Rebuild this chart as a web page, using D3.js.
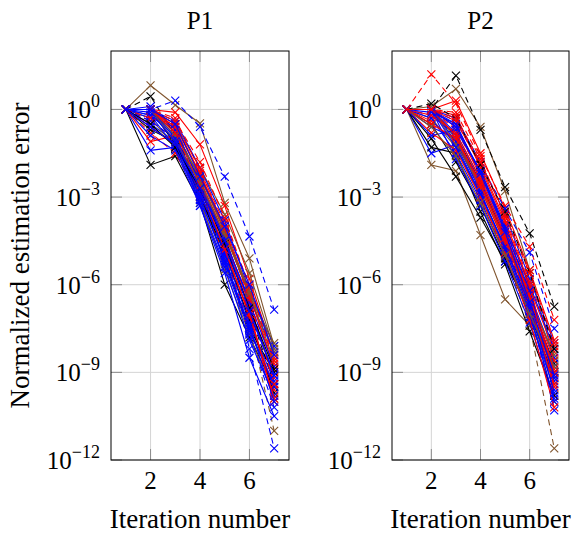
<!DOCTYPE html>
<html>
<head>
<meta charset="utf-8">
<script src="https://cdn.jsdelivr.net/npm/d3@7"></script>
<style>
  body { margin: 0; background: #fff; }
  svg text { font-family: "Liberation Serif", "Times New Roman", serif; fill: #000; }
</style>
</head>
<body>
<svg id="chart"></svg>
<script>
// data (errors given as log10 values)
const iterations = [1, 2, 3, 4, 5, 6, 7];
const xTicks = [2, 4, 6];
const yTickExps = [0, -3, -6, -9, -12];
const panelTitles = ["P1", "P2"];

const p1Colors = ["brown", "black", "brown", "black", "red", "blue", "red", "blue", "brown", "black",
  "red", "blue", "red", "blue", "brown", "red", "blue", "black", "blue", "red",
  "blue", "red", "blue", "blue", "blue", "red", "blue", "brown", "blue", "red",
  "brown", "red", "blue", "black", "red", "blue", "brown", "red", "blue", "blue"];
const p1Dashed = [false, true, true, false, true, false, false, true, false, false,
  false, true, true, false, false, false, false, false, false, true,
  true, false, false, false, false, false, false, false, false, false,
  false, true, false, false, false, false, false, true, false, false];
const p1LogErrors = [
  [0, 0.82, 0.15, -0.48, -3.2, -5.1, -8.1],
  [0, 0.45, -0.9, -2.6, -4.6, -6.9, -9.4],
  [0, 0, -0.6, -2.5, -4.7, -7.3, -11.0],
  [0, -1.9, -1.6, -3.2, -6.0, -7.8, -9.5],
  [0, -0.4, -1.0, -2.6, -4.5, -6.6, -8.8],
  [0, -0.5, -1.1, -2.9, -4.8, -7.0, -9.0],
  [0, 0, -0.1, -1.2, -3.3, -5.8, -8.4],
  [0, 0, 0.3, -0.6, -2.3, -4.35, -6.85],
  [0, 0, -0.5, -2.0, -3.6, -5.6, -8.2],
  [0, 0, -1.2, -2.8, -5.2, -7.5, -9.0],
  [0, -0.6, -1.2, -2.5, -4.4, -6.7, -9.2],
  [0, 0, -0.8, -2.4, -4.6, -8.2, -11.6],
  [0, -0.8, -1.5, -3.0, -5.0, -7.4, -9.8],
  [0, -1.4, -1.3, -3.2, -5.3, -7.6, -9.4],
  [0, -0.3, -1.3, -3.1, -5.5, -7.7, -9.9],
  [0, 0, -0.5, -2.2, -4.0, -6.3, -8.9],
  [0, -0.3, -0.6, -2.6, -4.5, -6.5, -8.3],
  [0, -0.7, -1.1, -3.0, -4.9, -7.2, -9.7],
  [0, -0.9, -1.4, -3.3, -5.6, -8.5, -10.5],
  [0, 0, -0.3, -2.1, -3.9, -6.0, -8.5],
  [0, -0.4, -1.0, -2.8, -5.0, -7.7, -10.2],
  [0, -1.1, -0.9, -2.9, -4.7, -7.1, -9.6],
  [0, 0, -0.4, -2.0, -3.8, -6.2, -8.1],
  [0, -0.2, -0.9, -2.7, -4.9, -7.3, -9.3],
  [0, 0, -0.9, -3.3, -5.4, -7.9, -9.8],
  [0, 0, -0.7, -2.4, -4.3, -6.9, -10.0],
  [0, -0.2, -1.3, -3.1, -5.1, -7.5, -9.5],
  [0, 0, -0.8, -2.3, -4.1, -6.4, -8.0],
  [0, 0.1, -0.7, -2.5, -4.4, -6.6, -8.8],
  [0, 0, -0.6, -2.2, -4.2, -6.4, -8.7],
  [0, 0, -0.9, -2.3, -4.2, -6.2, -8.3],
  [0, -0.3, -0.5, -2.0, -4.1, -6.5, -9.4],
  [0, 0, -1.0, -2.9, -4.7, -6.8, -9.1],
  [0, -0.5, -1.3, -2.7, -4.6, -6.8, -8.9],
  [0, 0, -0.8, -2.6, -4.8, -7.0, -9.9],
  [0, -0.6, -1.2, -3.0, -5.2, -7.4, -10.0],
  [0, 0, -1.1, -2.5, -4.3, -6.3, -8.6],
  [0, 0, -0.4, -1.8, -3.7, -6.1, -8.6],
  [0, -0.1, -1.1, -2.7, -4.5, -6.9, -9.1],
  [0, 0, -0.5, -2.3, -4.0, -6.0, -8.4]
];

const p2Colors = ["brown", "brown", "brown", "black", "black", "red", "black", "brown", "black", "blue",
  "red", "blue", "red", "blue", "brown", "red", "blue", "red", "blue", "black",
  "blue", "red", "blue", "blue", "red", "blue", "red", "blue", "red", "blue",
  "brown", "red", "blue", "black", "red", "blue", "brown", "red", "blue", "red"];
const p2Dashed = [false, false, true, true, false, true, false, false, false, false,
  false, true, true, false, false, false, false, false, true, false,
  false, false, false, false, true, false, false, false, false, false,
  false, false, false, true, false, false, false, false, false, true];
const p2LogErrors = [
  [0, -1.9, -2.1, -4.3, -6.5, -7.4, -9.0],
  [0, 0.1, 0.7, -0.6, -2.8, -5.5, -8.6],
  [0, 0, -0.9, -2.9, -5.0, -7.4, -11.6],
  [0, 0, 1.16, -0.7, -2.66, -4.24, -6.75],
  [0, -1.0, -2.3, -3.7, -5.2, -6.9, -9.0],
  [0, 1.2, 0.2, -1.6, -3.3, -4.7, -7.2],
  [0, -0.5, -1.8, -3.3, -5.1, -7.0, -9.2],
  [0, -0.3, -1.3, -3.0, -4.8, -7.1, -9.4],
  [0, 0, -0.9, -2.5, -4.4, -6.6, -8.7],
  [0, 0, -0.5, -2.2, -4.1, -6.3, -8.5],
  [0, 0, 0.3, -1.5, -3.4, -5.5, -7.9],
  [0, 0, -0.4, -1.9, -3.4, -4.9, -7.5],
  [0, 0, -0.7, -2.2, -4.0, -6.2, -9.8],
  [0, -0.6, -1.0, -2.6, -4.4, -6.7, -9.0],
  [0, 0, -1.0, -2.7, -4.6, -6.9, -10.0],
  [0, 0, -0.6, -2.3, -4.2, -6.4, -8.6],
  [0, -1.5, -1.2, -2.9, -4.7, -6.9, -9.3],
  [0, -0.4, -1.1, -2.7, -4.6, -6.8, -9.1],
  [0, -0.2, -0.9, -2.5, -4.5, -6.8, -10.3],
  [0, -1.3, -1.5, -3.5, -5.3, -7.6, -9.8],
  [0, 0, -0.8, -2.4, -4.3, -6.5, -8.8],
  [0, 0, -0.2, -2.0, -3.9, -6.1, -8.3],
  [0, -0.3, -1.5, -3.1, -5.0, -7.1, -9.6],
  [0, 0, -0.3, -1.8, -3.6, -5.8, -8.0],
  [0, 0, -0.1, -1.7, -3.7, -5.9, -8.1],
  [0, 0, -1.7, -3.3, -5.2, -7.3, -10.0],
  [0, -0.8, -1.4, -3.0, -4.9, -7.2, -10.2],
  [0, -0.9, -0.7, -2.1, -4.0, -6.0, -8.2],
  [0, 0, -0.4, -1.9, -3.8, -6.0, -9.4],
  [0, 0, -1.1, -2.8, -4.8, -7.0, -9.9],
  [0, 0, -1.2, -2.6, -4.5, -6.5, -8.4],
  [0, -0.2, -0.8, -2.4, -4.3, -6.3, -8.9],
  [0, 0, -0.6, -2.1, -4.1, -6.2, -9.2],
  [0, 0.2, -0.3, -1.9, -3.5, -5.6, -8.2],
  [0, -0.5, -1.0, -2.5, -4.5, -6.6, -9.5],
  [0, 0, -1.3, -2.9, -4.7, -6.7, -9.7],
  [0, -0.6, -1.6, -3.2, -5.0, -7.0, -8.8],
  [0, 0, -0.9, -2.6, -4.4, -6.4, -9.0],
  [0, -0.1, -0.5, -2.2, -4.2, -6.6, -9.1],
  [0, 0, -0.3, -1.8, -3.6, -5.6, -8.0]
];

const colorMap = { blue: "#0000ff", red: "#ff0000", black: "#000000", brown: "#80552e" };

const width = 572, height = 538;
const plotTop = 51, plotBottom = 460;
const panels = [
  { left: 111, right: 289, title: panelTitles[0], colors: p1Colors, dashed: p1Dashed, logs: p1LogErrors },
  { left: 392, right: 569, title: panelTitles[1], colors: p2Colors, dashed: p2Dashed, logs: p2LogErrors }
];

const svg = d3.select("#chart").attr("width", width).attr("height", height);

const y = d3.scaleLog().domain([1e-12, 1e2]).range([plotBottom, plotTop]);
const tickLen = 11;

panels.forEach(p => {
  const x = d3.scaleLinear().domain([0.4, 7.6]).range([p.left, p.right]);
  const g = svg.append("g");

  // grid
  g.selectAll(".gx").data(xTicks).enter().append("line")
    .attr("x1", d => x(d)).attr("x2", d => x(d))
    .attr("y1", plotTop).attr("y2", plotBottom)
    .attr("stroke", "#d4d4d4").attr("stroke-width", 1);
  g.selectAll(".gy").data(yTickExps).enter().append("line")
    .attr("x1", p.left).attr("x2", p.right)
    .attr("y1", d => y(Math.pow(10, d))).attr("y2", d => y(Math.pow(10, d)))
    .attr("stroke", "#d4d4d4").attr("stroke-width", 1);

  // ticks (both sides)
  xTicks.forEach(t => {
    g.append("line").attr("x1", x(t)).attr("x2", x(t)).attr("y1", plotBottom).attr("y2", plotBottom - tickLen)
      .attr("stroke", "#8c8c8c");
    g.append("line").attr("x1", x(t)).attr("x2", x(t)).attr("y1", plotTop).attr("y2", plotTop + tickLen)
      .attr("stroke", "#8c8c8c");
  });
  yTickExps.forEach(e => {
    const yy = y(Math.pow(10, e));
    g.append("line").attr("x1", p.left).attr("x2", p.left + tickLen).attr("y1", yy).attr("y2", yy)
      .attr("stroke", "#8c8c8c");
    g.append("line").attr("x1", p.right).attr("x2", p.right - tickLen).attr("y1", yy).attr("y2", yy)
      .attr("stroke", "#8c8c8c");
  });

  // series
  const line = d3.line()
    .x((d, i) => x(iterations[i]))
    .y(d => y(Math.pow(10, d)));

  p.logs.forEach((s, k) => {
    const c = colorMap[p.colors[k]];
    const sg = g.append("g");
    sg.append("path")
      .attr("d", line(s))
      .attr("fill", "none")
      .attr("stroke", c)
      .attr("stroke-width", 1.1)
      .attr("stroke-dasharray", p.dashed[k] ? "6,4" : null);
    const r = 4;
    sg.selectAll("path.m").data(s).enter().append("path")
      .attr("class", "m")
      .attr("d", (d, i) => {
        const cx = x(iterations[i]), cy = y(Math.pow(10, d));
        return `M${cx - r},${cy - r}L${cx + r},${cy + r}M${cx - r},${cy + r}L${cx + r},${cy - r}`;
      })
      .attr("stroke", c)
      .attr("stroke-width", 1.1)
      .attr("fill", "none");
  });

  // frame
  g.append("rect")
    .attr("x", p.left).attr("y", plotTop)
    .attr("width", p.right - p.left).attr("height", plotBottom - plotTop)
    .attr("fill", "none").attr("stroke", "#000").attr("stroke-width", 1);

  // x tick labels
  g.selectAll(".xl").data(xTicks).enter().append("text")
    .attr("x", d => x(d)).attr("y", 489)
    .attr("text-anchor", "middle")
    .style("font-size", "25px")
    .text(d => d);

  // y tick labels
  yTickExps.forEach(e => {
    const t = g.append("text")
      .attr("x", p.left - 11).attr("y", y(Math.pow(10, e)) + 9)
      .attr("text-anchor", "end")
      .style("font-size", "25px");
    t.append("tspan").text("10");
    t.append("tspan").attr("dy", -11).style("font-size", "18px")
      .text(e === 0 ? "0" : "\u2212" + Math.abs(e));
  });

  // title
  g.append("text")
    .attr("x", (p.left + p.right) / 2).attr("y", 29)
    .attr("text-anchor", "middle")
    .style("font-size", "25px")
    .text(p.title);

  // x axis title
  g.append("text")
    .attr("x", (p.left + p.right) / 2).attr("y", 528)
    .attr("text-anchor", "middle")
    .style("font-size", "27px")
    .text("Iteration number");
});

// y axis title
svg.append("text")
  .attr("transform", `translate(29,${(plotTop + plotBottom) / 2}) rotate(-90)`)
  .attr("text-anchor", "middle")
  .style("font-size", "27px")
  .text("Normalized estimation error");
</script>
</body>
</html>
